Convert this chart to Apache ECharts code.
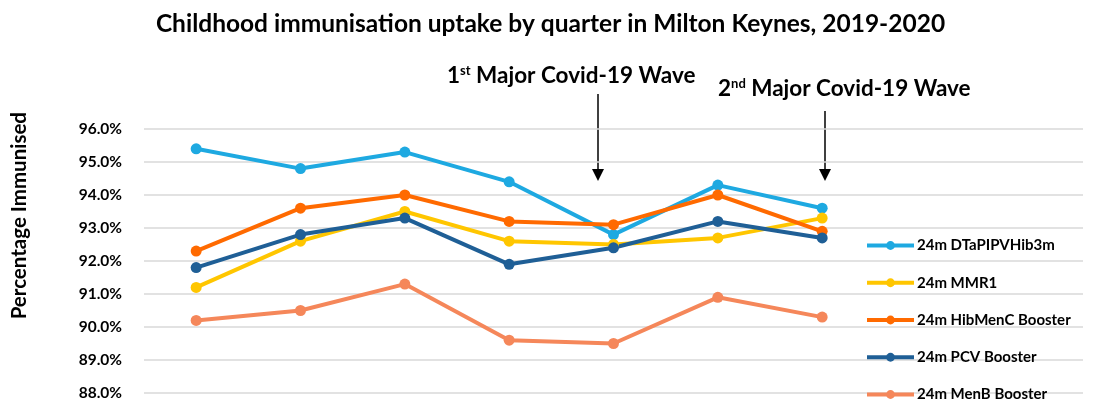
<!DOCTYPE html>
<html>
<head>
<meta charset="utf-8">
<script src="https://cdn.jsdelivr.net/npm/echarts@6/dist/echarts.min.js"></script>
<style>
  html, body { margin: 0; padding: 0; background: #fff; }
  #chart { width: 1101px; height: 401px; }
</style>
</head>
<body>
<div id="chart"></div>
<script>
// Quarters (financial year); the axis keeps two empty slots after the last reported quarter
const quarters = ['Q1 2019/20', 'Q2 2019/20', 'Q3 2019/20', 'Q4 2019/20', 'Q1 2020/21', 'Q2 2020/21', 'Q3 2020/21', 'Q4 2020/21', 'Q1 2021/22'];

const seriesNames = ['24m DTaPIPVHib3m', '24m MMR1', '24m HibMenC Booster', '24m PCV Booster', '24m MenB Booster'];
const dtap    = [95.4, 94.8, 95.3, 94.4, 92.8, 94.3, 93.6];
const mmr1    = [91.2, 92.6, 93.5, 92.6, 92.5, 92.7, 93.3];
const hibmenc = [92.3, 93.6, 94.0, 93.2, 93.1, 94.0, 92.9];
const pcv     = [91.8, 92.8, 93.3, 91.9, 92.4, 93.2, 92.7];
const menb    = [90.2, 90.5, 91.3, 89.6, 89.5, 90.9, 90.3];

const yMin = 88, yMax = 96, yStep = 1;

const colors = ['#1ea9e1', '#ffc600', '#ff6a00', '#1f5f96', '#f5875a'];
const FONT = 'Lato, "Open Sans", sans-serif';

const chart = echarts.init(document.getElementById('chart'), null, { renderer: 'canvas' });

function lineSeries(name, data, color) {
  return {
    name: name,
    type: 'line',
    data: data,
    symbol: 'circle',
    symbolSize: 11,
    lineStyle: { width: 4, color: color },
    itemStyle: { color: color },
    emphasis: { disabled: true }
  };
}

// Vertical arrow pointing down at an annotated period
function arrow(x, y1, y2) {
  return [
    { type: 'line', shape: { x1: x, y1: y1, x2: x, y2: y2 - 10 }, style: { stroke: '#000', lineWidth: 1.5 } },
    { type: 'polygon', shape: { points: [[x - 6, y2 - 12], [x + 6, y2 - 12], [x, y2]] }, style: { fill: '#000' } }
  ];
}

// Label with an ordinal suffix raised as superscript
function waveLabel(num, suffix, left, top) {
  return {
    type: 'text',
    left: left, top: top,
    style: {
      text: '{b|' + num + '}{s|' + suffix + '}{b| Major Covid-19 Wave}',
      rich: {
        b: { font: 'bold 22.5px ' + FONT, fill: '#000', verticalAlign: 'bottom' },
        s: { font: 'bold 13px ' + FONT, fill: '#000', padding: [0, 0, 10, 0], verticalAlign: 'bottom' }
      }
    }
  };
}

const option = {
  backgroundColor: '#fff',
  animation: false,
  color: colors,
  title: {
    text: 'Childhood immunisation uptake by quarter in Milton Keynes, 2019-2020',
    left: 'center',
    top: 12,
    padding: 0,
    textStyle: { fontFamily: FONT, fontWeight: 'bold', fontSize: 24.5, color: '#000' }
  },
  grid: { left: 144, right: 18, top: 129, bottom: 8, containLabel: false },
  xAxis: {
    type: 'category',
    data: quarters,
    boundaryGap: true,
    axisLine: { show: false },
    axisTick: { show: false },
    axisLabel: { show: false }
  },
  yAxis: {
    type: 'value',
    min: yMin,
    max: yMax,
    interval: yStep,
    axisLine: { show: false },
    axisTick: { show: false },
    splitLine: { lineStyle: { color: '#d9d9d9', width: 1.5 } },
    axisLabel: {
      formatter: v => v.toFixed(1) + '%',
      fontFamily: FONT, fontWeight: 'bold', fontSize: 15.5, color: '#000', margin: 22
    }
  },
  legend: {
    orient: 'vertical',
    left: 865,
    top: 238,
    height: 175,
    padding: 0,
    itemWidth: 47,
    itemHeight: 11,
    itemGap: 22.25,
    data: seriesNames,
    lineStyle: { width: 4 },
    textStyle: { fontFamily: FONT, fontWeight: 'bold', fontSize: 15, color: '#000', lineHeight: 15, padding: [0, 0, 0, -2] }
  },
  graphic: [
    {
      type: 'text',
      left: 9, top: 112,
      rotation: Math.PI / 2,
      style: { text: 'Percentage Immunised', font: 'bold 20.5px ' + FONT, fill: '#000' }
    },
    waveLabel('1', 'st', 447, 64),
    waveLabel('2', 'nd', 718, 77),
    ...arrow(598, 94, 181),
    ...arrow(825, 111, 181)
  ],
  series: [
    lineSeries(seriesNames[0], dtap, colors[0]),
    lineSeries(seriesNames[1], mmr1, colors[1]),
    lineSeries(seriesNames[2], hibmenc, colors[2]),
    lineSeries(seriesNames[3], pcv, colors[3]),
    lineSeries(seriesNames[4], menb, colors[4])
  ]
};

chart.setOption(option);
</script>
</body>
</html>
